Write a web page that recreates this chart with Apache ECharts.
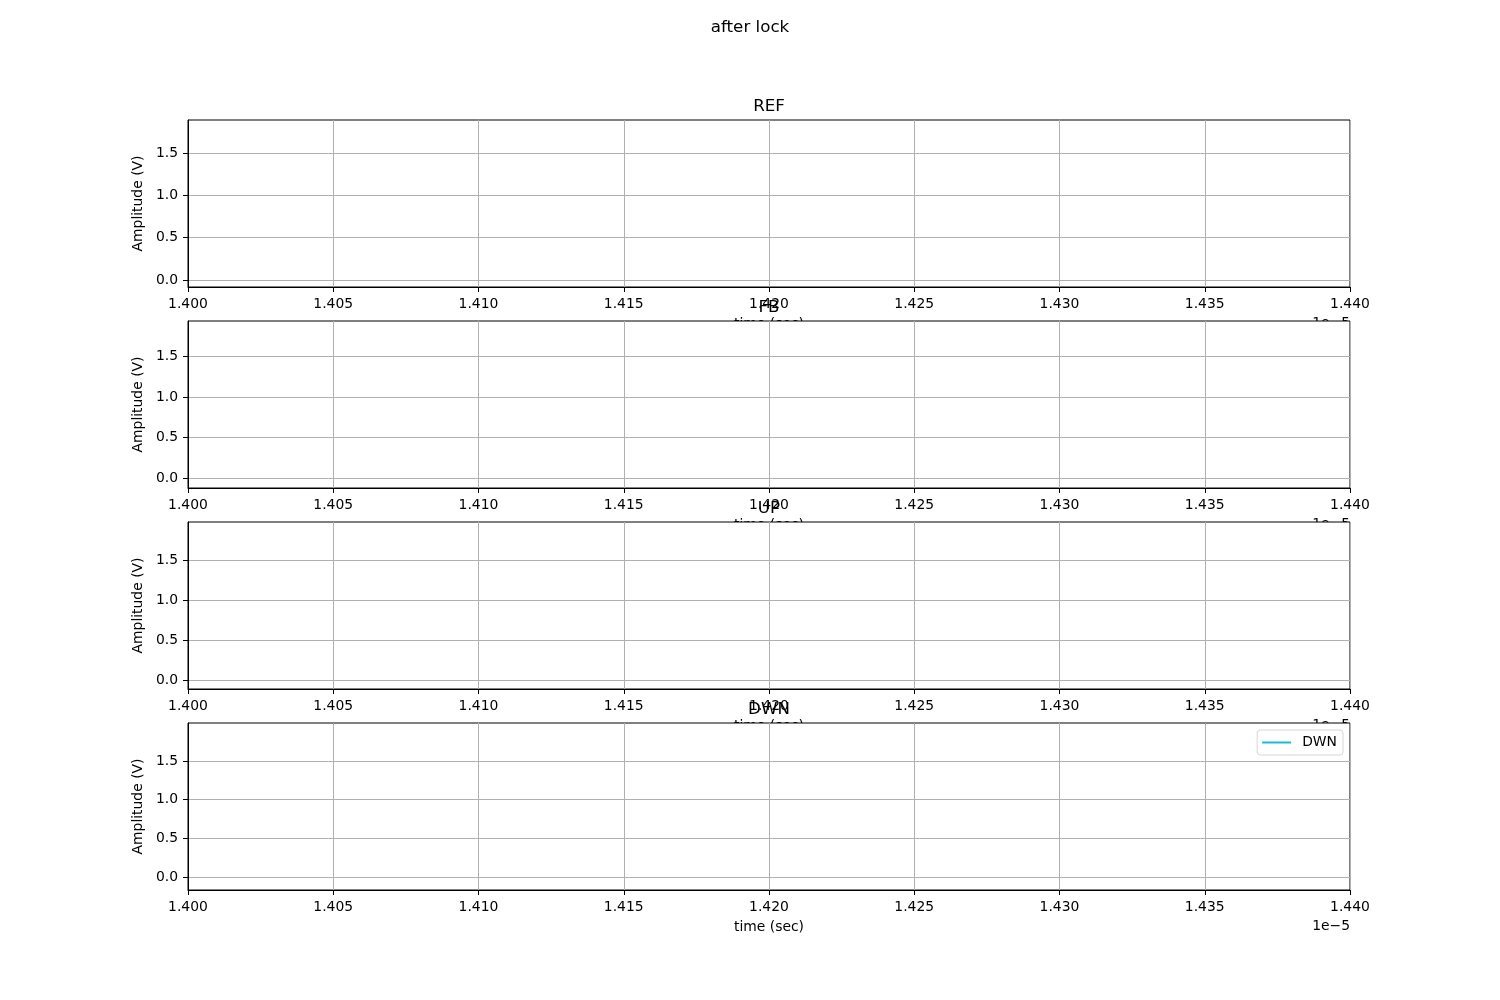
<!DOCTYPE html>
<html>
<head>
<meta charset="utf-8">
<script src="https://cdn.jsdelivr.net/npm/echarts@6/dist/echarts.min.js"></script>
<style>
  html, body { margin: 0; padding: 0; background: #fff; }
  #chart { width: 1500px; height: 1000px; }
</style>
</head>
<body>
<div id="chart"></div>
<script>
// time axis is in units of 1e-5 s (matplotlib offset text "1e-5")
const xTicks = [1.400, 1.405, 1.410, 1.415, 1.420, 1.425, 1.430, 1.435, 1.440];
const yTicks = [0, 0.5, 1.0, 1.5];

// no trace falls inside the 1.400..1.440 window, so the visible data is empty
const timeRef = [];
const refV = [];
const timeFb = [];
const fbV = [];
const timeUp = [];
const upV = [];
const timeDwn = [];
const dwnV = [];

const panelNames = ['REF', 'FB', 'UP', 'DWN'];
const panelColors = ['#1f77b4', '#ff7f0e', '#2ca02c', '#17becf'];
const panelTimes = [timeRef, timeFb, timeUp, timeDwn];
const panelValues = [refV, fbV, upV, dwnV];
// y limits (autoscaled by matplotlib)
const yMin = [-0.083, -0.118, -0.109, -0.168];
const yMax = [1.89, 1.935, 1.975, 1.991];

const font = 'DejaVu Sans';
const tickSize = 13.9;
const gridTop = [120, 321, 522, 723];
const gridH = 167;

const chart = echarts.init(document.getElementById('chart'));

let grids = [], xAxes = [], yAxes = [], series = [], titles = [], graphics = [];

titles.push({
  text: 'after lock',
  left: 'center',
  top: 14,
  textStyle: { fontFamily: font, fontSize: 16.7, fontWeight: 'normal', color: '#000' }
});

panelNames.forEach((name, i) => {
  grids.push({
    left: 188, right: 150, top: gridTop[i], height: gridH,
    show: true, backgroundColor: '#fff', borderColor: '#000', borderWidth: 1,
    z: 1
  });
  // main time axis
  xAxes.push({
    type: 'value', gridIndex: i, position: 'bottom',
    min: 1.400, max: 1.440, z: 2,
    axisLine: { show: true, onZero: false, lineStyle: { color: '#000', width: 1 } },
    axisTick: { show: true, length: 5, customValues: xTicks, lineStyle: { color: '#000' } },
    axisLabel: {
      show: true, margin: 10, customValues: xTicks,
      fontFamily: font, fontSize: tickSize, color: '#000',
      formatter: v => v.toFixed(3)
    },
    splitLine: { show: true, lineStyle: { color: '#b0b0b0', width: 1 } }
  });
  // name-only axis, drawn under the grid background so the next panel hides it
  xAxes.push({
    type: 'value', gridIndex: i, position: 'bottom',
    min: 1.400, max: 1.440, z: 0,
    name: 'time (sec)', nameLocation: 'middle', nameGap: 30,
    nameTextStyle: { fontFamily: font, fontSize: tickSize, color: '#000' },
    axisLine: { show: false }, axisTick: { show: false },
    axisLabel: { show: false }, splitLine: { show: false }
  });
  yAxes.push({
    type: 'value', gridIndex: i,
    min: yMin[i], max: yMax[i], z: 2,
    name: 'Amplitude (V)', nameLocation: 'middle', nameGap: 36,
    nameTextStyle: { fontFamily: font, fontSize: tickSize, color: '#000' },
    axisLine: { show: true, onZero: false, lineStyle: { color: '#000', width: 1 } },
    axisTick: { show: true, length: 5, customValues: yTicks, lineStyle: { color: '#000' } },
    axisLabel: {
      show: true, margin: 10, customValues: yTicks,
      fontFamily: font, fontSize: tickSize, color: '#000',
      formatter: v => v.toFixed(1)
    },
    splitLine: { show: true, lineStyle: { color: '#b0b0b0', width: 1 } }
  });
  titles.push({
    text: name,
    left: 764, textAlign: 'center',
    top: gridTop[i] - 27,
    textStyle: { fontFamily: font, fontSize: 16.7, fontWeight: 'normal', color: '#000' }
  });
  graphics.push({
    type: 'text', z: 0,
    right: 150, top: gridTop[i] + gridH + 29,
    style: { text: '1e\u22125', font: tickSize + 'px "DejaVu Sans"', fill: '#000' }
  });
  series.push({
    name: name, type: 'line',
    xAxisIndex: i * 2, yAxisIndex: i,
    showSymbol: false, symbol: 'none',
    lineStyle: { color: panelColors[i], width: 1.5 },
    itemStyle: { color: panelColors[i] },
    data: panelTimes[i].map((t, k) => [t, panelValues[i][k]])
  });
});

chart.setOption({
  animation: false,
  backgroundColor: '#fff',
  title: titles,
  grid: grids,
  xAxis: xAxes,
  yAxis: yAxes,
  graphic: graphics,
  legend: {
    data: ['DWN'],
    right: 157, top: 730,
    orient: 'vertical',
    backgroundColor: '#fff',
    borderColor: '#d6d6d6', borderWidth: 1, borderRadius: 3,
    padding: [5, 6, 5, 5],
    icon: 'rect',
    itemWidth: 29, itemHeight: 2, itemGap: 5,
    textStyle: { fontFamily: font, fontSize: tickSize, color: '#000', padding: [0, 0, 0, 6], lineHeight: 15 }
  },
  series: series
});
</script>
</body>
</html>
